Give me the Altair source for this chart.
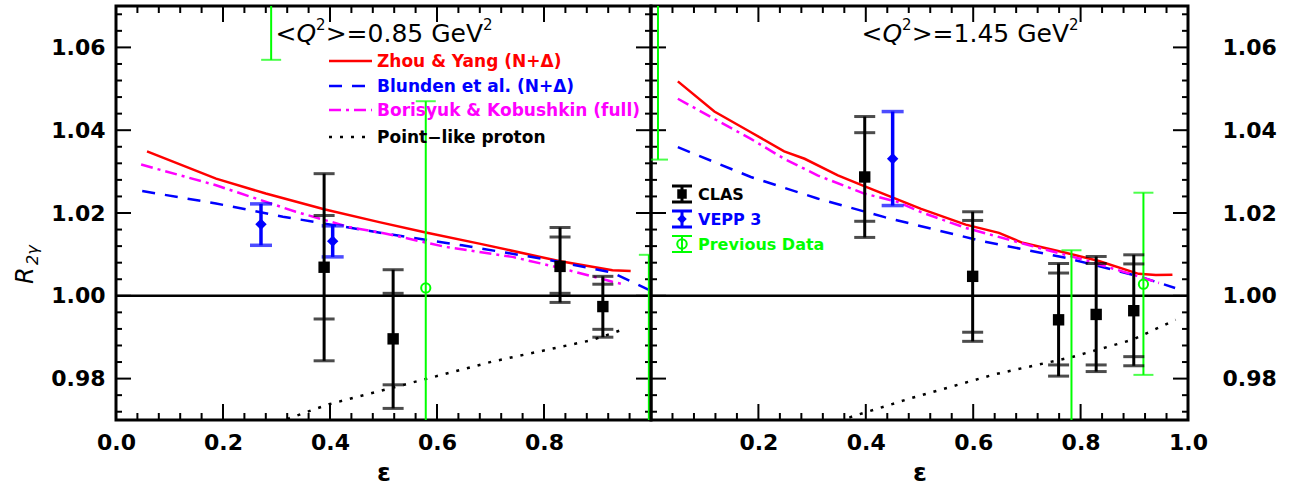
import altair as alt
import pandas as pd
import numpy as np

# ===================== DATA =====================
# ---- left panel: <Q^2> = 0.85 GeV^2 ----
zy_L_eps = [0.058, 0.187, 0.280, 0.389, 0.492, 0.579, 0.679, 0.828, 0.928, 0.962]
zy_L_R = [1.0349, 1.0283, 1.0247, 1.0209, 1.0178, 1.0153, 1.0126, 1.0084, 1.0062, 1.0060]
bl_L_eps = [0.049, 0.187, 0.312, 0.505, 0.647, 0.803, 0.928, 0.995]
bl_L_R = [1.0253, 1.0223, 1.0191, 1.0150, 1.0122, 1.0088, 1.0056, 1.0015]
bk_L_eps = [0.047, 0.187, 0.336, 0.436, 0.505, 0.616, 0.741, 0.834, 0.928, 0.951]
bk_L_R = [1.0317, 1.0267, 1.0203, 1.0166, 1.0150, 1.0118, 1.0094, 1.0066, 1.0034, 1.0027]
pl_L_eps = [0.300, 0.323, 0.398, 0.579, 0.703, 0.890, 0.953]
pl_L_R = [0.9695, 0.9704, 0.9738, 0.9799, 0.9841, 0.9893, 0.9921]

clas_L_eps = [0.389, 0.518, 0.830, 0.910]
clas_L_R = [1.0069, 0.9896, 1.0071, 0.9974]
clas_L_stat_lo = [0.9944, 0.9785, 1.0006, 0.9919]
clas_L_stat_hi = [1.0194, 1.0006, 1.0142, 1.0028]
clas_L_tot_lo = [0.9843, 0.9728, 0.9984, 0.9900]
clas_L_tot_hi = [1.0295, 1.0063, 1.0165, 1.0047]

vepp_L_eps = [0.271, 0.405]
vepp_L_R = [1.0173, 1.0132]
vepp_L_lo = [1.0122, 1.0094]
vepp_L_hi = [1.0222, 1.0169]

prev_L_eps = [0.290, 0.579, 0.996]
prev_L_R = [1.080, 1.0019, 0.960]
prev_L_lo = [1.057, 0.957, 0.910]
prev_L_hi = [1.103, 1.047, 1.0099]

# ---- right panel: <Q^2> = 1.45 GeV^2 ----
zy_R_eps = [0.050, 0.118, 0.186, 0.248, 0.286, 0.348, 0.397, 0.447, 0.503, 0.586,
            0.648, 0.692, 0.772, 0.834, 0.908, 0.940, 0.971]
zy_R_R = [1.0518, 1.0445, 1.0395, 1.0349, 1.0331, 1.0291, 1.0265, 1.0239, 1.0210, 1.0172,
          1.0152, 1.0128, 1.0104, 1.0084, 1.0053, 1.0050, 1.0051]
bl_R_eps = [0.050, 0.186, 0.310, 0.435, 0.503, 0.617, 0.772, 0.908, 0.976]
bl_R_R = [1.0359, 1.0287, 1.0235, 1.0190, 1.0168, 1.0132, 1.0092, 1.0047, 1.0019]
bk_R_eps = [0.050, 0.124, 0.186, 0.248, 0.310, 0.397, 0.459, 0.503, 0.586, 0.710, 0.803, 0.908, 0.946]
bk_R_R = [1.0476, 1.0423, 1.0379, 1.0331, 1.0291, 1.0247, 1.0227, 1.0202, 1.0164, 1.0120,
          1.0088, 1.0047, 1.0031]
pl_R_eps = [0.350, 0.376, 0.485, 0.639, 0.781, 0.897, 0.977]
pl_R_R = [0.9697, 0.9709, 0.9753, 0.9810, 0.9851, 0.9894, 0.9942]

clas_R_eps = [0.398, 0.599, 0.759, 0.829, 0.899]
clas_R_R = [1.0287, 1.0047, 0.9942, 0.9955, 0.9964]
clas_R_stat_lo = [1.0180, 0.9912, 0.9833, 0.9833, 0.9853]
clas_R_stat_hi = [1.0394, 1.0182, 1.0055, 1.0078, 1.0077]
clas_R_tot_lo = [1.0141, 0.9890, 0.9806, 0.9817, 0.9831]
clas_R_tot_hi = [1.0433, 1.0203, 1.0078, 1.0095, 1.0099]

vepp_R_eps = [0.450]
vepp_R_R = [1.0331]
vepp_R_lo = [1.0218]
vepp_R_hi = [1.0445]

prev_R_eps = [0.013, 0.783, 0.917]
prev_R_R = [1.080, 0.965, 1.0028]
prev_R_lo = [1.0329, 0.919, 0.9809]
prev_R_hi = [1.127, 1.0110, 1.0249]

# ---- texts / ticks ----
q2_L = "0.85"
q2_R = "1.45"
theory_labels = ["Zhou & Yang (N+Δ)", "Blunden et al. (N+Δ)",
                 "Borisyuk & Kobushkin (full)", "Point−like proton"]
data_labels = ["CLAS", "VEPP 3", "Previous Data"]
x_ticks_L = [0.0, 0.2, 0.4, 0.6, 0.8]
x_ticks_R = [0.2, 0.4, 0.6, 0.8, 1.0]
y_major = [0.98, 1.00, 1.02, 1.04, 1.06]
y_minor = [0.972, 0.976, 0.984, 0.988, 0.992, 0.996, 1.004, 1.008, 1.012, 1.016,
           1.024, 1.028, 1.032, 1.036, 1.044, 1.048, 1.052, 1.056, 1.064, 1.068]
x_major = [0.0, 0.2, 0.4, 0.6, 0.8, 1.0]
x_minor = [0.04, 0.08, 0.12, 0.16, 0.24, 0.28, 0.32, 0.36, 0.44, 0.48, 0.52, 0.56,
           0.64, 0.68, 0.72, 0.76, 0.84, 0.88, 0.92, 0.96]

# ===================== STYLE =====================
RED, BLUE, MAG, GREEN, BLACK = "#ff0000", "#0000ff", "#ff00ff", "#00ff00", "#000000"
FONT = "DejaVu Sans"
W_L, W_R, H = 535, 537, 414
DASH_BL = [13, 10]
DASH_BK = [12, 5, 3, 5]
DASH_PL = [3, 8]
one = pd.DataFrame({"k": [0]})

# approximate DejaVu Sans advance widths (em) used to lay out the panel titles
ADV = {"<": 0.838, ">": 0.838, "=": 0.838, ".": 0.318, " ": 0.318, "G": 0.775,
       "e": 0.615, "V": 0.684, "Q": 0.787}


def tw(s, size):
    return sum(ADV.get(c, 0.636) for c in s) * size


def title_pieces(q2, cx, base_y):
    big, small = 25, 15
    pieces = [("<", big, "normal", 0), ("Q", big, "italic", 0), ("2", small, "normal", -12),
              (">=" + q2 + " GeV", big, "normal", 0), ("2", small, "normal", -12)]
    total = sum(tw(t, s) for t, s, _, _ in pieces)
    x = cx - total / 2
    out = []
    for t, s, st, dy in pieces:
        out.append(alt.Chart(one).mark_text(
            text=t, font=FONT, fontSize=s, fontStyle=st, align="left",
            baseline="alphabetic", color=BLACK).encode(
            x=alt.value(x), y=alt.value(base_y + dy)))
        x += tw(t, s)
    return out


def panel(width, xvals, y_orient, y_pad, curves, clas, vepp, prev, q2, title_x,
          legend_kind):
    xs = alt.Scale(domain=[0, 1], nice=False, zero=False)
    ys = alt.Scale(domain=[0.97, 1.07], nice=False, zero=False)
    xa = alt.Axis(values=xvals, format=".1f", title="ε", labelPadding=12,
                  titlePadding=7, ticks=False, tickSize=0, domain=False, grid=False,
                  labelFlush=False, labelOverlap=False)
    ya = alt.Axis(values=y_major, format=".2f", orient=y_orient, title=None,
                  labelPadding=y_pad, ticks=False, tickSize=0, domain=False,
                  grid=False, labelFlush=False, labelOverlap=False)

    def X(f):
        return alt.X(f, type="quantitative", scale=xs, axis=xa)

    def Y(f):
        return alt.Y(f, type="quantitative", scale=ys, axis=ya)

    layers = []
    # inward ticks on all four sides
    for vals, ln in ((y_major, 15), (y_minor, 6)):
        d = alt.Chart(pd.DataFrame({"v": vals}))
        layers.append(d.mark_rule(color=BLACK, strokeWidth=2).encode(
            y=Y("v"), x=alt.value(0), x2=alt.value(ln)))
        layers.append(d.mark_rule(color=BLACK, strokeWidth=2).encode(
            y=Y("v"), x=alt.value(width - ln), x2=alt.value(width)))
    for vals, ln in ((x_major, 16), (x_minor, 7)):
        d = alt.Chart(pd.DataFrame({"v": vals}))
        layers.append(d.mark_rule(color=BLACK, strokeWidth=2).encode(
            x=X("v"), y=alt.value(H - ln), y2=alt.value(H)))
        layers.append(d.mark_rule(color=BLACK, strokeWidth=2).encode(
            x=X("v"), y=alt.value(0), y2=alt.value(ln)))
    # R = 1 reference line
    layers.append(alt.Chart(pd.DataFrame({"v": [1.0]})).mark_rule(
        color=BLACK, strokeWidth=2.5).encode(y=Y("v")))

    # theory curves
    for eps, r, color, dash in curves:
        kw = dict(color=color, strokeWidth=2.5, clip=True)
        if dash:
            kw["strokeDash"] = dash
        layers.append(alt.Chart(pd.DataFrame({"eps": eps, "R": r})).mark_line(**kw)
                      .encode(x=X("eps"), y=Y("R")))

    # previous data (green)
    pe, pr, plo, phi = prev
    dp = alt.Chart(pd.DataFrame({"eps": pe, "R": pr, "lo": plo, "hi": phi}))
    layers.append(dp.mark_rule(color=GREEN, strokeWidth=2, clip=True).encode(
        x=X("eps"), y=Y("lo"), y2=alt.Y2("hi")))
    for f in ("lo", "hi"):
        layers.append(dp.mark_tick(orient="horizontal", color=GREEN, size=20,
                                   thickness=2, clip=True).encode(x=X("eps"), y=Y(f)))
    layers.append(dp.mark_point(shape="circle", filled=False, color=GREEN, size=85,
                                strokeWidth=2, opacity=1, clip=True).encode(
        x=X("eps"), y=Y("R")))

    # VEPP-3 (blue)
    ve, vr, vlo, vhi = vepp
    dv = alt.Chart(pd.DataFrame({"eps": ve, "R": vr, "lo": vlo, "hi": vhi}))
    layers.append(dv.mark_rule(color=BLUE, strokeWidth=3.5, clip=True).encode(
        x=X("eps"), y=Y("lo"), y2=alt.Y2("hi")))
    for f in ("lo", "hi"):
        layers.append(dv.mark_tick(orient="horizontal", color=BLUE, size=22,
                                   thickness=3.5, clip=True).encode(x=X("eps"), y=Y(f)))
    layers.append(dv.mark_point(shape="diamond", filled=True, color=BLUE, size=130,
                                opacity=1, clip=True).encode(x=X("eps"), y=Y("R")))

    # CLAS (black)
    ce, cr, cslo, cshi, ctlo, cthi = clas
    dc = alt.Chart(pd.DataFrame({"eps": ce, "R": cr, "slo": cslo, "shi": cshi,
                                 "tlo": ctlo, "thi": cthi}))
    layers.append(dc.mark_rule(color=BLACK, strokeWidth=3, clip=True).encode(
        x=X("eps"), y=Y("tlo"), y2=alt.Y2("thi")))
    for f in ("slo", "shi", "tlo", "thi"):
        layers.append(dc.mark_tick(orient="horizontal", color=BLACK, size=21,
                                   thickness=3, clip=True).encode(x=X("eps"), y=Y(f)))
    layers.append(dc.mark_point(shape="square", filled=True, color=BLACK, size=130,
                                opacity=1, clip=True).encode(x=X("eps"), y=Y("R")))

    # panel title  <Q^2>=... GeV^2
    layers += title_pieces(q2, title_x, 36)

    # legends
    if legend_kind == "theory":
        cols = [RED, BLUE, MAG, BLACK]
        dashes = [None, DASH_BL, DASH_BK, DASH_PL]
        ys_px = [55, 80, 104, 131]
        for lab, col, dsh, yy in zip(theory_labels, cols, dashes, ys_px):
            kw = dict(color=col, strokeWidth=2.5)
            if dsh:
                kw["strokeDash"] = dsh
            layers.append(alt.Chart(one).mark_rule(**kw).encode(
                x=alt.value(213), x2=alt.value(256), y=alt.value(yy)))
            layers.append(alt.Chart(one).mark_text(
                text=lab, font=FONT, fontSize=17, fontWeight="bold", color=col,
                align="left", baseline="middle").encode(
                x=alt.value(261), y=alt.value(yy + 1)))
        # y-axis title R_{2gamma}
        layers.append(alt.Chart(one).mark_text(
            text="R", font=FONT, fontSize=24, fontStyle="italic", angle=270,
            align="left", baseline="middle", color=BLACK).encode(
            x=alt.value(-90), y=alt.value(278)))
        layers.append(alt.Chart(one).mark_text(
            text="2γ", font=FONT, fontSize=16, fontStyle="italic", angle=270,
            align="left", baseline="middle", color=BLACK).encode(
            x=alt.value(-83), y=alt.value(259)))
    else:
        cols = [BLACK, BLUE, GREEN]
        shapes = ["square", "diamond", "circle"]
        ys_px = [188, 213, 238]
        for lab, col, shp, yy in zip(data_labels, cols, shapes, ys_px):
            lw = 2 if col == GREEN else 3
            layers.append(alt.Chart(one).mark_rule(color=col, strokeWidth=lw).encode(
                x=alt.value(31), y=alt.value(yy - 8), y2=alt.value(yy + 8)))
            for dy in (-8, 8):
                layers.append(alt.Chart(one).mark_rule(color=col, strokeWidth=lw).encode(
                    x=alt.value(21), x2=alt.value(41), y=alt.value(yy + dy)))
            layers.append(alt.Chart(one).mark_point(
                shape=shp, filled=(col != GREEN), color=col, size=90, opacity=1,
                strokeWidth=2).encode(x=alt.value(31), y=alt.value(yy)))
            layers.append(alt.Chart(one).mark_text(
                text=lab, font=FONT, fontSize=16, fontWeight="bold", color=col,
                align="left", baseline="middle").encode(
                x=alt.value(47), y=alt.value(yy + 1)))

    return alt.layer(*layers).properties(width=width, height=H)


left = panel(
    W_L, x_ticks_L, "left", 11,
    [(zy_L_eps, zy_L_R, RED, None), (bl_L_eps, bl_L_R, BLUE, DASH_BL),
     (bk_L_eps, bk_L_R, MAG, DASH_BK), (pl_L_eps, pl_L_R, BLACK, DASH_PL)],
    (clas_L_eps, clas_L_R, clas_L_stat_lo, clas_L_stat_hi, clas_L_tot_lo, clas_L_tot_hi),
    (vepp_L_eps, vepp_L_R, vepp_L_lo, vepp_L_hi),
    (prev_L_eps, prev_L_R, prev_L_lo, prev_L_hi),
    q2_L, 268, "theory")

right = panel(
    W_R, x_ticks_R, "right", 34,
    [(zy_R_eps, zy_R_R, RED, None), (bl_R_eps, bl_R_R, BLUE, DASH_BL),
     (bk_R_eps, bk_R_R, MAG, DASH_BK), (pl_R_eps, pl_R_R, BLACK, DASH_PL)],
    (clas_R_eps, clas_R_R, clas_R_stat_lo, clas_R_stat_hi, clas_R_tot_lo, clas_R_tot_hi),
    (vepp_R_eps, vepp_R_R, vepp_R_lo, vepp_R_hi),
    (prev_R_eps, prev_R_R, prev_R_lo, prev_R_hi),
    q2_R, 319, "data")

chart = (
    alt.hconcat(left, right, spacing=0, bounds="flush")
    .configure_view(stroke=BLACK, strokeWidth=3)
    .configure_axis(labelFont=FONT, labelFontSize=22, labelFontWeight="bold",
                    labelColor=BLACK, titleFont=FONT, titleFontSize=25,
                    titleFontWeight="bold", titleColor=BLACK)
    .properties(padding={"left": 12, "top": 3, "right": 5, "bottom": 5},
                background="white")
)

chart.save("out.html", embed_options={"renderer": "svg", "actions": False})
